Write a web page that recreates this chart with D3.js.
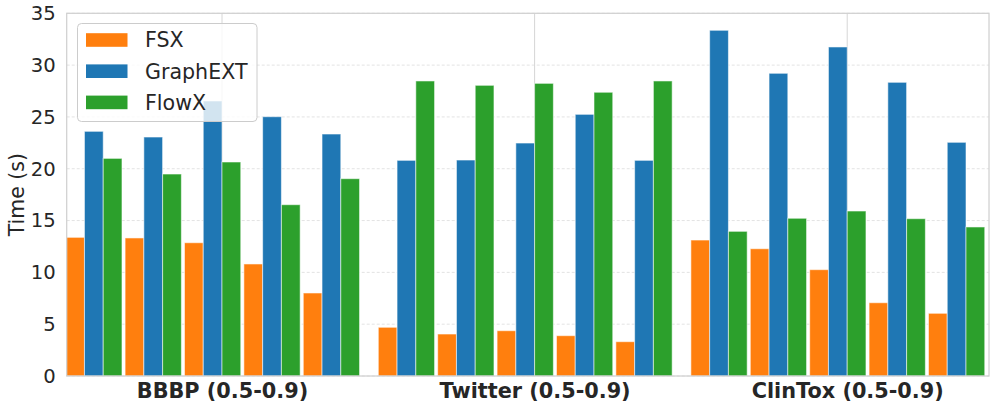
<!DOCTYPE html>
<html>
<head>
<meta charset="utf-8">
<script src="https://cdn.jsdelivr.net/npm/d3@7"></script>
<style>
  html, body { margin: 0; padding: 0; background: #fff; }
  svg { display: block; }
  text { font-family: "DejaVu Sans", sans-serif; fill: #262626; }
</style>
</head>
<body>
<div id="chart"></div>
<script>
// ---- data ----
const datasets = ["BBBP (0.5-0.9)", "Twitter (0.5-0.9)", "ClinTox (0.5-0.9)"];
const thresholds = ["0.5", "0.6", "0.7", "0.8", "0.9"];
const methods = ["FSX", "GraphEXT", "FlowX"];
const colors = ["#ff7f0e", "#1f77b4", "#2ca02c"];
// values per dataset, per threshold
const fsxTimes = [
  [13.38, 13.32, 12.86, 10.81, 8.01],
  [4.70, 4.05, 4.37, 3.89, 3.31],
  [13.12, 12.28, 10.26, 7.07, 6.05]
];
const graphextTimes = [
  [23.61, 23.06, 26.54, 25.02, 23.35],
  [20.81, 20.84, 22.48, 25.25, 20.81],
  [33.36, 29.21, 31.75, 28.34, 22.55]
];
const flowxTimes = [
  [21.00, 19.49, 20.65, 16.53, 19.04],
  [28.47, 28.05, 28.24, 27.38, 28.47],
  [13.96, 15.22, 15.92, 15.18, 14.38]
];
const yTicks = [0, 5, 10, 15, 20, 25, 30, 35];
const yLabel = "Time (s)";

(function () {
  // ---- layout ----
  const W = 996, H = 408;
  const pL = 66.7, pR = 989, pT = 13.3, pB = 376;
  const barW = 0.06, subPitch = 0.19;

  const svg = d3.select("#chart").append("svg").attr("width", W).attr("height", H);

  const x = d3.scaleLinear().domain([-0.4968, 2.4536]).range([pL, pR]);
  const y = d3.scaleLinear().domain([0, 35]).range([pB, pT]);

  svg.append("defs").append("clipPath").attr("id", "plotclip")
    .append("rect").attr("x", pL).attr("y", pT).attr("width", pR - pL).attr("height", pB - pT);

  // horizontal grid
  const grid = svg.append("g");
  grid.selectAll("line.h").data(yTicks).join("line").attr("class", "h")
    .attr("x1", pL).attr("x2", pR)
    .attr("y1", d => y(d)).attr("y2", d => y(d))
    .attr("stroke", "#e3e3e3").attr("stroke-width", 1).attr("stroke-dasharray", "3,2");
  // vertical grid at group ticks
  grid.selectAll("line.v").data(datasets).join("line").attr("class", "v")
    .attr("x1", (d, i) => x(i)).attr("x2", (d, i) => x(i))
    .attr("y1", pT).attr("y2", pB)
    .attr("stroke", "#d6d6d6").attr("stroke-width", 1);

  // bars
  const series = [fsxTimes, graphextTimes, flowxTimes];
  const bars = [];
  datasets.forEach((ds, g) => {
    thresholds.forEach((t, k) => {
      methods.forEach((m, s) => {
        bars.push({ g, k, s, v: series[s][g][k] });
      });
    });
  });
  const barG = svg.append("g").attr("clip-path", "url(#plotclip)");
  barG.selectAll("rect").data(bars).join("rect")
    .attr("x", d => x(d.g - 0.5 + d.k * subPitch + d.s * barW))
    .attr("width", d => x(barW) - x(0))
    .attr("y", d => y(d.v))
    .attr("height", d => y(0) - y(d.v))
    .attr("fill", d => colors[d.s])
    .attr("stroke", "#ffffff").attr("stroke-opacity", 0.55).attr("stroke-width", 1);

  // spines
  svg.append("rect").attr("x", pL).attr("y", pT).attr("width", pR - pL).attr("height", pB - pT)
    .attr("fill", "none").attr("stroke", "#d0d0d0").attr("stroke-width", 1.25);

  // y axis
  const yAxis = d3.axisLeft(y).tickValues(yTicks).tickSize(0).tickPadding(11).tickFormat(d3.format("d"));
  const yg = svg.append("g").attr("transform", `translate(${pL},0)`).call(yAxis);
  yg.select(".domain").remove();
  yg.selectAll("text").style("font-size", "19.6px").style("font-family", "DejaVu Sans").attr("fill", "#262626");

  // x axis
  const xAxis = d3.axisBottom(x).tickValues([0, 1, 2]).tickSize(0).tickPadding(7).tickFormat(i => datasets[i]);
  const xg = svg.append("g").attr("transform", `translate(0,${pB})`).call(xAxis);
  xg.select(".domain").remove();
  xg.selectAll("text").style("font-size", "20.8px").style("font-weight", "bold").style("font-family", "DejaVu Sans").attr("fill", "#262626");

  // y label
  svg.append("text").attr("transform", `translate(24,${(pT + pB) / 2}) rotate(-90)`)
    .attr("text-anchor", "middle").style("font-size", "20.5px").text(yLabel);

  // legend
  const lg = svg.append("g");
  lg.append("rect").attr("x", 77.5).attr("y", 23.5).attr("width", 179.5).attr("height", 98)
    .attr("rx", 4).attr("fill", "#ffffff").attr("fill-opacity", 0.8)
    .attr("stroke", "#cccccc").attr("stroke-width", 1);
  methods.forEach((m, i) => {
    const cy = 40 + i * 31.2;
    lg.append("rect").attr("x", 86).attr("y", cy - 6.8).attr("width", 41.5).attr("height", 13.6)
      .attr("fill", colors[i]);
    lg.append("text").attr("x", 145).attr("y", cy).attr("dy", "0.36em")
      .style("font-size", "20.6px").text(m);
  });
})();
</script>
</body>
</html>
